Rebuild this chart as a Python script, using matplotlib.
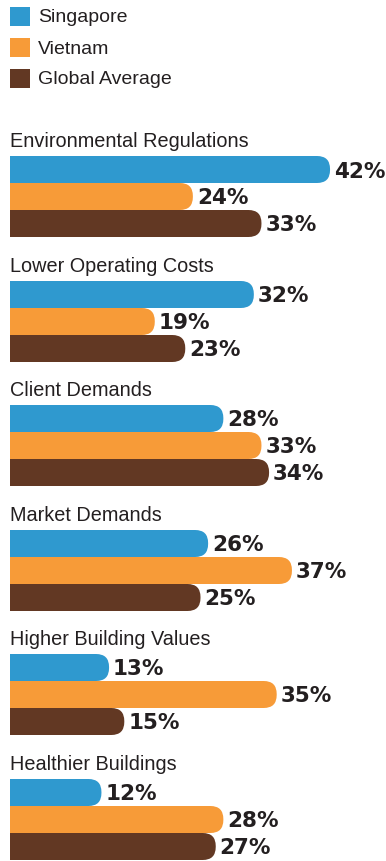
import matplotlib
matplotlib.use("Agg")
import matplotlib.pyplot as plt
from matplotlib.patches import FancyBboxPatch, Rectangle

# Survey drivers and shares (%) per region
categories = ["Environmental Regulations", "Lower Operating Costs", "Client Demands",
              "Market Demands", "Higher Building Values", "Healthier Buildings"]
singapore = [42, 32, 28, 26, 13, 12]
vietnam = [24, 19, 33, 37, 35, 28]
global_avg = [33, 23, 34, 25, 15, 27]
series_names = ["Singapore", "Vietnam", "Global Average"]
colors = ["#2F99CF", "#F79B38", "#623823"]
text_color = "#231F20"

W, H = 386, 862
px_per_pct = 7.62      # horizontal scale
x0 = 10                # left edge of bars, px
bar_h = 27             # px
first_bar_top = 157
group_step = 124.6
corner = 13            # rounding of bar ends, px

title_font = ["Liberation Sans", "DejaVu Sans"]

fig = plt.figure(figsize=(W / 100, H / 100), dpi=100)
ax = fig.add_axes([0, 0, 1, 1])
ax.set_xlim(-x0 / px_per_pct, (W - x0) / px_per_pct)
ax.set_ylim(H, 0)
ax.axis("off")

# legend
for i, (name, c) in enumerate(zip(series_names, colors)):
    top = 8 + i * 31
    ax.add_patch(Rectangle((0, top), 20 / px_per_pct, 19, color=c, lw=0))
    ax.text(28 / px_per_pct, top + 10, name, fontsize=14, family=title_font,
            color=text_color, va="center", ha="left")

data = [singapore, vietnam, global_avg]
for g, cat in enumerate(categories):
    # whole-pixel tops keep the overlapping bar pieces seamless
    top = round(first_bar_top + g * group_step)
    ax.text(0, top - 10, cat, fontsize=14.3, family=title_font, color=text_color,
            va="baseline", ha="left")
    for s in range(3):
        v = data[s][g]
        y = top + s * bar_h
        rr = corner / px_per_pct
        ax.add_patch(FancyBboxPatch((0, y), v, bar_h,
                                    boxstyle=f"round,pad=0,rounding_size={rr}",
                                    mutation_aspect=px_per_pct,
                                    fc=colors[s], ec="none", lw=0))
        # square off the left end
        ax.barh(y + bar_h / 2, v / 2, height=bar_h, left=0, color=colors[s],
                lw=0, snap=False)
        ax.text(v + 4 / px_per_pct, y + bar_h / 2 + 1, f"{v}%", fontsize=15.5,
                fontweight="bold", family="DejaVu Sans", color=text_color,
                va="center", ha="left")

fig.savefig("out.png", dpi=100)
